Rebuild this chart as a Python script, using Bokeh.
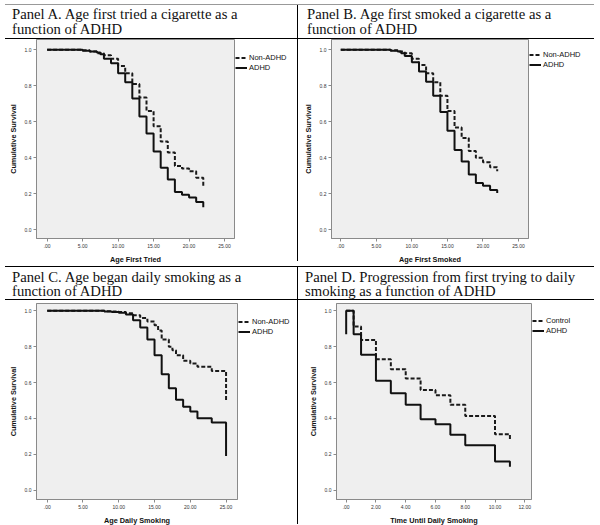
from bokeh.plotting import figure
from bokeh.models import Range1d, FixedTicker, Legend, LegendItem, Div
from bokeh.layouts import column, row
from bokeh.embed import file_html
from bokeh.resources import INLINE

# ---------------- data ----------------
# Panel A: age first tried a cigarette
a_adhd_t = [5, 6, 7, 7.5, 8, 9, 10, 11, 12, 13, 14, 15, 16, 17, 18, 19, 20, 21, 22]
a_adhd_s = [0.995, 0.99, 0.985, 0.975, 0.95, 0.925, 0.87, 0.82, 0.73, 0.63, 0.535,
            0.435, 0.345, 0.28, 0.21, 0.195, 0.18, 0.155, 0.125]
a_ctrl_t = [5, 6, 7, 8, 9, 10, 11, 12, 13, 14, 15, 16, 17, 18, 19, 20, 21, 22]
a_ctrl_s = [0.997, 0.99, 0.98, 0.97, 0.95, 0.91, 0.87, 0.81, 0.735, 0.66, 0.575,
            0.49, 0.43, 0.355, 0.34, 0.325, 0.29, 0.245]

# Panel B: age first smoked a cigarette
b_adhd_t = [7, 8, 8.5, 9, 10, 11, 12, 13, 14, 15, 16, 17, 18, 19, 20, 21, 22]
b_adhd_s = [0.995, 0.99, 0.98, 0.965, 0.93, 0.88, 0.823, 0.745, 0.655, 0.55, 0.443,
            0.38, 0.307, 0.26, 0.245, 0.222, 0.205]
b_ctrl_t = [7, 8, 9, 10, 11, 12, 13, 14, 15, 16, 17, 18, 19, 20, 21, 22]
b_ctrl_s = [0.997, 0.99, 0.98, 0.95, 0.915, 0.87, 0.82, 0.745, 0.66, 0.568, 0.51,
            0.438, 0.40, 0.376, 0.348, 0.326]

# Panel C: age began daily smoking
c_adhd_t = [8, 9, 10, 11, 12, 13, 14, 15, 16, 17, 18, 19, 20, 21, 23, 25]
c_adhd_s = [0.997, 0.993, 0.99, 0.98, 0.948, 0.907, 0.84, 0.753, 0.647, 0.569, 0.504,
            0.465, 0.439, 0.401, 0.377, 0.19]
c_ctrl_t = [8, 9, 10, 11, 12, 13, 14, 15, 15.5, 16, 17, 17.5, 18, 19, 20, 21, 23, 25]
c_ctrl_s = [0.998, 0.996, 0.993, 0.987, 0.975, 0.96, 0.94, 0.92, 0.89, 0.84, 0.8,
            0.78, 0.752, 0.722, 0.706, 0.688, 0.665, 0.498]

# Panel D: progression from first trying to daily smoking
d_adhd_t = [0, 0.5, 1, 2, 3, 4, 5, 6, 7, 8, 10, 11]
d_adhd_s = [1.0, 0.87, 0.755, 0.61, 0.54, 0.476, 0.396, 0.368, 0.309, 0.251, 0.16, 0.13]
d_adhd_start = 0.87   # ADHD curve in panel D begins at 0.87 and rises to 1.0 at time 0
d_ctrl_t = [0.5, 1, 2, 3, 4, 5, 6, 7, 8, 10, 11]
d_ctrl_s = [0.913, 0.838, 0.73, 0.675, 0.623, 0.558, 0.53, 0.476, 0.414, 0.312, 0.28]

age_ticks = [0, 5, 10, 15, 20, 25]
age_labels = [".00", "5.00", "10.00", "15.00", "20.00", "25.00"]
time_ticks = [0, 2, 4, 6, 8, 10, 12]
time_labels = [".00", "2.00", "4.00", "6.00", "8.00", "10.00", "12.00"]
surv_ticks = [0.0, 0.2, 0.4, 0.6, 0.8, 1.0]
surv_labels = ["0.0", "0.2", "0.4", "0.6", "0.8", "1.0"]

titles = [
    ("Panel A. Age first tried a cigarette as a", "function of ADHD"),
    ("Panel B. Age first smoked a cigarette as a", "function of ADHD"),
    ("Panel C. Age began daily smoking as a", "function of ADHD"),
    ("Panel D. Progression from first trying to daily", "smoking as a function of ADHD"),
]
x_titles = ["Age First Tried", "Age First Smoked", "Age Daily Smoking", "Time Until Daily Smoking"]
y_title = "Cumulative Survival"
legend_labels = [("Non-ADHD", "ADHD"), ("Non-ADHD", "ADHD"), ("Non-ADHD", "ADHD"), ("Control", "ADHD")]

SANS = "Liberation Sans"
SERIF = "Liberation Serif"
LEFT_W, RIGHT_W = 297, 301
LINE_X0, LINE_W = 5, 589
DASH_STYLE = dict(line_color="#1a1a1a", line_width=2, line_dash="4 2")
SOLID_STYLE = dict(line_color="#111111", line_width=2)


def make_plot(height, xr, yr, fl, fw, ft, fh, xt, xl, xtitle, ct, cs, at, as_,
              c_start=1.0, a_start=1.0):
    p = figure(width=fl + fw + 1, height=height, frame_width=fw, frame_height=fh,
               x_range=Range1d(*xr), y_range=Range1d(*yr),
               output_backend="svg", toolbar_location=None,
               min_border_left=fl, min_border_right=1,
               min_border_top=ft, min_border_bottom=height - ft - fh,
               background_fill_color="#efefef", border_fill_color="white",
               outline_line_color="#8a8a8a")
    p.grid.visible = False
    p.step([0] + ct, [c_start] + cs, mode="after", **DASH_STYLE)
    p.step([0] + at, [a_start] + as_, mode="after", **SOLID_STYLE)
    p.xaxis.ticker = FixedTicker(ticks=xt)
    p.xaxis.major_label_overrides = {t: l for t, l in zip(xt, xl)}
    p.yaxis.ticker = FixedTicker(ticks=surv_ticks)
    p.yaxis.major_label_overrides = {t: l for t, l in zip(surv_ticks, surv_labels)}
    p.xaxis.axis_label = xtitle
    p.yaxis.axis_label = y_title
    for ax in (p.xaxis[0], p.yaxis[0]):
        ax.axis_line_color = "#8a8a8a"
        ax.major_tick_line_color = "#8a8a8a"
        ax.major_tick_out = 3
        ax.major_tick_in = 0
        ax.minor_tick_line_color = None
        ax.major_label_text_font = SANS
        ax.major_label_text_font_size = "5px"
        ax.major_label_text_color = "#333333"
        ax.major_label_standoff = 2
        ax.axis_label_text_font = SANS
        ax.axis_label_text_font_size = "7.3px"
        ax.axis_label_text_font_style = "bold"
        ax.axis_label_text_color = "#111111"
        ax.axis_label_standoff = 4
    return p


def make_legend(width, height, labels, pad, ct, cs, at, as_, c_start=1.0, a_start=1.0):
    # The legend lives in its own small figure beside the plot; its renderers carry the
    # same series but the figure's ranges keep those lines out of view, so only the
    # legend samples and labels show.
    lf = figure(width=width, height=height, x_range=Range1d(-1000, -999),
                y_range=Range1d(0, 1),
                x_axis_type=None, y_axis_type=None, output_backend="svg",
                toolbar_location=None, min_border=0, outline_line_color=None,
                background_fill_color="white", border_fill_color="white")
    lf.grid.visible = False
    r_c = lf.step([0] + ct, [c_start] + cs, mode="after", **DASH_STYLE)
    r_a = lf.step([0] + at, [a_start] + as_, mode="after", **SOLID_STYLE)
    leg = Legend(items=[LegendItem(label=labels[0], renderers=[r_c]),
                        LegendItem(label=labels[1], renderers=[r_a])],
                 location="top_left", orientation="vertical",
                 title=" ", title_text_font_size="7px", title_standoff=7 - pad,
                 label_text_font=SANS, label_text_font_size="7.5px",
                 label_text_color="#111111",
                 glyph_width=12, glyph_height=9, label_height=9, label_standoff=2,
                 spacing=1, padding=pad, margin=0,
                 border_line_color=None, background_fill_alpha=0)
    lf.add_layout(leg, "center")
    return lf


def title_div(lines, width, height, pad_left, pad_top, line_h):
    html = ('<div style="font-family:\'%s\';font-size:14.7px;line-height:%spx;'
            'color:#111;white-space:nowrap;padding-top:%spx;padding-left:%spx">%s<br>%s</div>'
            % (SERIF, line_h, pad_top, pad_left, lines[0], lines[1]))
    return Div(text=html, width=width, height=height, margin=0)


def blank(width, height):
    return Div(text="", width=width, height=height, margin=0)


def hline(color="#000000"):
    return row(blank(LINE_X0, 1),
               Div(text="", width=LINE_W, height=1, margin=0, styles={"background-color": color}))


def vline(height):
    return Div(text="", width=1, height=height, margin=0, styles={"background-color": "#000000"})


pA = make_plot(222, (-1.5, 26.4), (-0.048, 1.057), 36, 198, 0, 199,
               age_ticks, age_labels, x_titles[0], a_ctrl_t, a_ctrl_s, a_adhd_t, a_adhd_s)
pB = make_plot(222, (-1.3, 26.4), (-0.048, 1.057), 33, 197, 0, 199,
               age_ticks, age_labels, x_titles[1], b_ctrl_t, b_ctrl_s, b_adhd_t, b_adhd_s)
pC = make_plot(229, (-1.5, 26.6), (-0.052, 1.041), 36, 201, 3, 196,
               age_ticks, age_labels, x_titles[2], c_ctrl_t, c_ctrl_s, c_adhd_t, c_adhd_s)
pD = make_plot(229, (-0.65, 12.45), (-0.052, 1.041), 38, 195, 3, 196,
               time_ticks, time_labels, x_titles[3], d_ctrl_t, d_ctrl_s, d_adhd_t, d_adhd_s,
               a_start=d_adhd_start)

lA = make_legend(LEFT_W - pA.width, 222, legend_labels[0], 0,
                 a_ctrl_t, a_ctrl_s, a_adhd_t, a_adhd_s)
lB = make_legend(RIGHT_W - pB.width, 222, legend_labels[1], 3,
                 b_ctrl_t, b_ctrl_s, b_adhd_t, b_adhd_s)
lC = make_legend(LEFT_W - pC.width, 229, legend_labels[2], 0,
                 c_ctrl_t, c_ctrl_s, c_adhd_t, c_adhd_s)
lD = make_legend(RIGHT_W - pD.width, 229, legend_labels[3], 1,
                 d_ctrl_t, d_ctrl_s, d_adhd_t, d_adhd_s, a_start=d_adhd_start)

layout = column(
    blank(LEFT_W + 1 + RIGHT_W, 4),
    hline("#999999"),
    row(title_div(titles[0], LEFT_W, 33, 12, 1.5, 15), vline(33),
        title_div(titles[1], RIGHT_W, 33, 9, 1.5, 15)),
    hline(),
    row(pA, lA, vline(222), pB, lB),
    hline(),
    row(title_div(titles[2], LEFT_W, 32, 12, 2.5, 14), vline(32),
        title_div(titles[3], RIGHT_W, 32, 7, 2.5, 14)),
    hline(),
    row(pC, lC, vline(224), pD, lD),
)

open("out.html", "w").write(file_html(layout, INLINE))
